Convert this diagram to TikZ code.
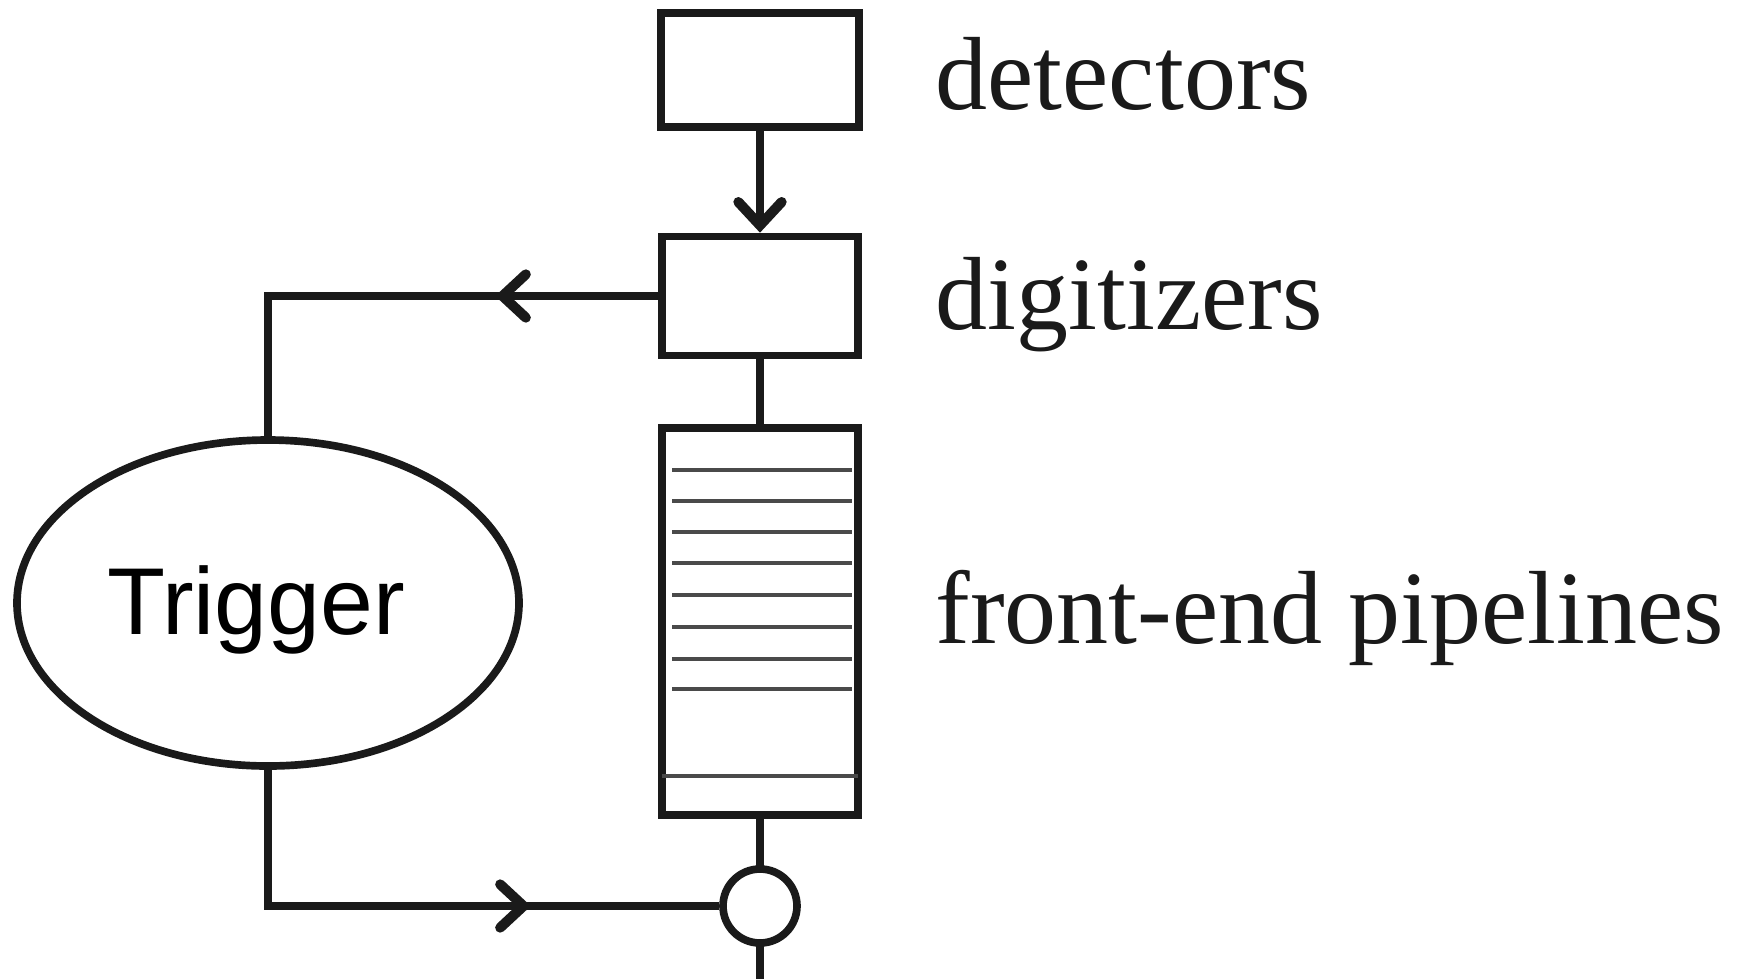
\documentclass[tikz,border=0pt]{standalone}
\usepackage{fontspec}
\setmainfont{Liberation Serif}
\newfontfamily\trigfont{Liberation Sans}
\usetikzlibrary{arrows.meta,shapes.geometric,decorations.markings}

\definecolor{ink}{HTML}{1A1A1A}
\definecolor{slot}{HTML}{4A4A4A}

\tikzset{
  chevron/.tip={Straight Barb[length=7pt,width=13pt,line cap=round,line width=3pt 0 0]},
  conn/.style={draw=ink, line width=2.3pt, line cap=rect},
  barb/.style={-chevron},
  midbarb/.style={postaction={decorate},
    decoration={markings, mark=at position #1 with {\arrow{chevron}}}},
  block/.style={draw=ink, line width=2.3pt, fill=white, rectangle, inner sep=0pt},
  gatestyle/.style={draw=ink, line width=2.3pt, fill=white, circle, inner sep=0pt, minimum size=22.2pt},
  trigstyle/.style={draw=ink, line width=2.3pt, ellipse, inner sep=0pt,
    minimum width=150.6pt, minimum height=97.8pt,
    font=\trigfont\fontsize{28.5pt}{32pt}\selectfont, text depth=0pt},
  caption/.style={anchor=base west, inner sep=0pt, text=ink,
    font=\fontsize{31.2pt}{36pt}\selectfont},
  slotline/.style={draw=slot, line width=1.2pt}
}

\begin{document}
\begin{tikzpicture}[x=0.3pt,y=-0.3pt]
  \useasboundingbox (0,0) rectangle (1739,978);

  % main chain of blocks
  \node[block, minimum width=59.4pt, minimum height=34.2pt] (det) at (760,70) {};
  \node[block, minimum width=58.8pt, minimum height=35.7pt] (dig) at (760,296) {};
  \node[block, minimum width=58.8pt, minimum height=116.1pt] (pipe) at (760,621.5) {};
  \node[gatestyle] (gate) at (760,906) {};
  \coordinate (out) at (760,978);

  % pipeline cells
  \foreach \yy in {470,501,532,563,595,627,659,689}
    \draw[slotline] (672,\yy) -- (852,\yy);
  \draw[slotline] (662,776) -- (858,776);

  % trigger
  \node[trigstyle] (trig) at (268,603) {\raisebox{1.5pt}{Trigger}\kern7pt};
  \coordinate (cTop) at (268,296);
  \coordinate (cBot) at (268,906);

  % captions
  \node[caption] (lblDet) at (935,109) {detectors};
  \node[caption] (lblDig) at (935,329) {digitizers};
  \node[caption] (lblPipe) at (935,643) {front-end pipelines};

  % connectors
  \draw[conn, barb] (det.south) -- (dig.north);
  \draw[conn] (dig.south) -- (pipe.north);
  \draw[conn] (pipe.south) -- (gate.north);
  \draw[conn] (gate.south) -- (out);
  \draw[conn, line cap=butt, line join=miter, midbarb=48.9pt] (dig.west) -- (cTop) -- (trig.north);
  \draw[conn, line cap=butt, line join=miter, midbarb=119.7pt] (trig.south) -- (cBot) -- (gate.west);
\end{tikzpicture}
\end{document}
